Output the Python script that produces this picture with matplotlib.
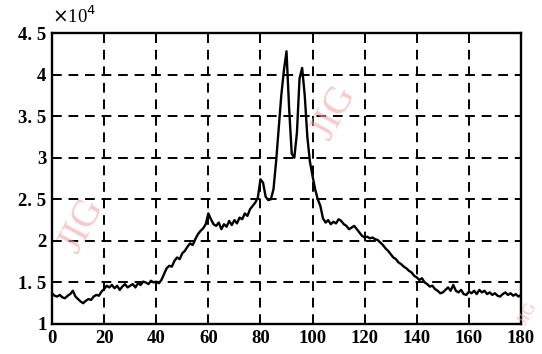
import numpy as np
import matplotlib.pyplot as plt
from matplotlib.ticker import FixedLocator

plt.rcParams['font.family'] = ['Liberation Serif', 'DejaVu Serif']

# intensity (x10^4) read at each integer x from 0 to 180
x = np.arange(0, 181)
y = [1.37, 1.34, 1.33, 1.35, 1.32, 1.31, 1.34, 1.36, 1.40, 1.33,
     1.30, 1.27, 1.25, 1.28, 1.30, 1.29, 1.33, 1.35, 1.34, 1.39,
     1.42, 1.46, 1.44, 1.47, 1.43, 1.46, 1.41, 1.45, 1.48, 1.44,
     1.46, 1.48, 1.44, 1.49, 1.47, 1.51, 1.50, 1.48, 1.52, 1.50,
     1.51, 1.49, 1.53, 1.60, 1.67, 1.70, 1.69, 1.76, 1.80, 1.78,
     1.85, 1.88, 1.93, 1.97, 1.95, 2.02, 2.08, 2.12, 2.15, 2.20,
     2.33, 2.26, 2.20, 2.18, 2.22, 2.14, 2.20, 2.17, 2.24, 2.19,
     2.25, 2.21, 2.28, 2.26, 2.33, 2.30, 2.38, 2.42, 2.46, 2.52,
     2.74, 2.70, 2.53, 2.49, 2.50, 2.62, 2.95, 3.35, 3.75, 4.05,
     4.28, 3.60, 3.05, 3.00, 3.30, 3.95, 4.08, 3.75, 3.25, 2.95,
     2.78, 2.62, 2.50, 2.42, 2.27, 2.22, 2.25, 2.20, 2.23, 2.21,
     2.26, 2.24, 2.20, 2.18, 2.14, 2.16, 2.18, 2.14, 2.10, 2.06,
     2.04, 2.05, 2.03, 2.04, 2.02, 2.01, 1.98, 1.95, 1.91, 1.88,
     1.84, 1.80, 1.78, 1.74, 1.72, 1.69, 1.67, 1.64, 1.62, 1.58,
     1.56, 1.53, 1.55, 1.50, 1.48, 1.45, 1.46, 1.42, 1.40, 1.37,
     1.38, 1.41, 1.44, 1.40, 1.47, 1.40, 1.38, 1.41, 1.36, 1.35,
     1.39, 1.37, 1.40, 1.36, 1.41, 1.38, 1.40, 1.36, 1.38, 1.35,
     1.37, 1.34, 1.33, 1.36, 1.38, 1.35, 1.37, 1.34, 1.36, 1.33,
     1.35]
y = np.array(y) * 1e4

xticks = [0, 20, 40, 60, 80, 100, 120, 140, 160, 180]
yticks = [1, 1.5, 2, 2.5, 3, 3.5, 4, 4.5]
ylabels = ['1', '1. 5', '2', '2. 5', '3', '3. 5', '4', '4. 5']

fig = plt.figure(figsize=(5.42, 3.54), dpi=100)
ax = fig.add_axes([52/542, 30/354, 469/542, 291/354])

ax.plot(x, y, color='black', lw=1.7)

ax.set_xlim(0, 180)
ax.set_ylim(1e4, 4.5e4)
ax.xaxis.set_major_locator(FixedLocator(xticks))
ax.yaxis.set_major_locator(FixedLocator([v * 1e4 for v in yticks]))
ax.set_xticklabels([str(t) for t in xticks])
ax.set_yticklabels(ylabels)
ax.tick_params(length=0, labelsize=13.5, pad=4)
for lab in ax.get_xticklabels() + ax.get_yticklabels():
    lab.set_fontweight('bold')

ax.grid(True, color='black', ls=(0, (5, 3.5)), lw=1.4)
for s in ax.spines.values():
    s.set_linewidth(1.7)

fig.text(52/542, 1 - 16/354, r'$\times$10$^4$', fontsize=13.5,
         va='center', ha='left')

# pink "JIG" watermarks
for wx, wy, fs in [(82, 226, 28), (334, 113, 28), (528, 314, 12)]:
    fig.text(wx/542, 1 - wy/354, 'JIG', fontsize=fs, color='#f6a3a3',
             alpha=0.6, rotation=62, ha='center', va='center')

fig.savefig('out.png', dpi=100)
